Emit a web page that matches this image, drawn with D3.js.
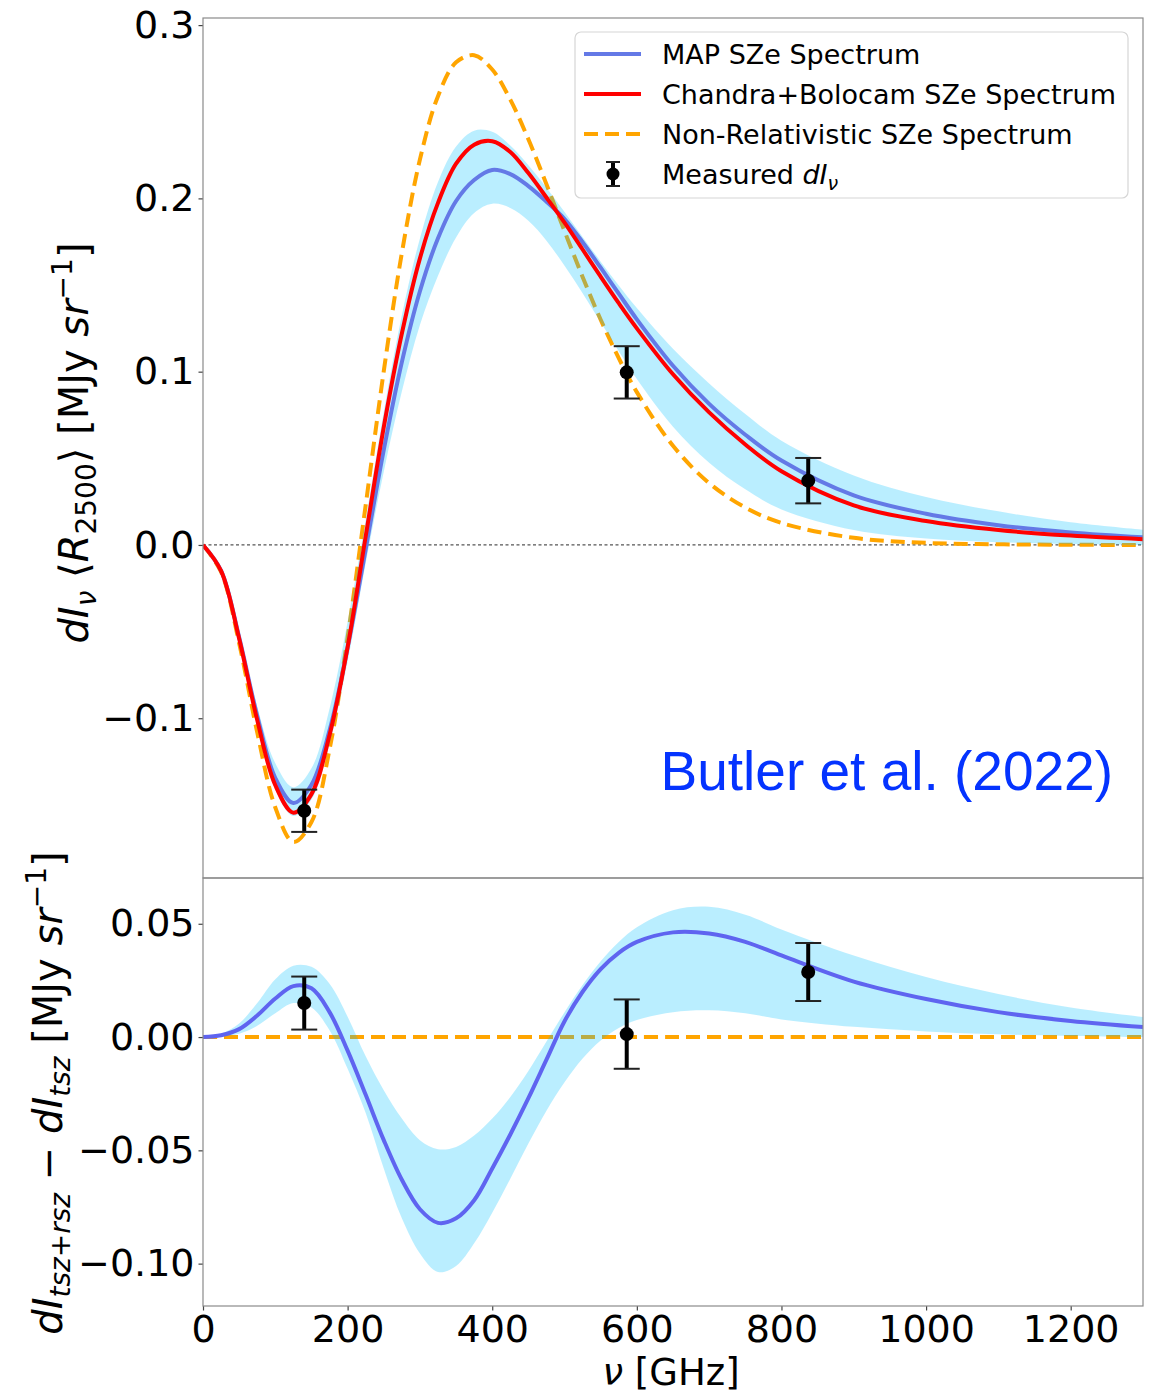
<!DOCTYPE html>
<html>
<head>
<meta charset="utf-8">
<script src="https://cdn.jsdelivr.net/npm/d3@7"></script>
<style>
  body { margin: 0; background: #fff; }
  svg { font-family: "DejaVu Sans", sans-serif; }
</style>
</head>
<body>
<div id="chart"></div>
<script>
// frequency grid [GHz]
const freq = [0, 25, 50, 75, 100, 125, 150, 175, 200, 225, 250, 275, 300, 325, 350, 375, 400, 425,
    450, 475, 500, 525, 550, 575, 600, 650, 700, 750, 800, 900, 1000, 1100, 1200, 1300];

// upper panel spectra [MJy/sr]
const mapSpec = [0, -0.0148, -0.0532, -0.0987, -0.1345, -0.1489, -0.1384, -0.1070, -0.0593, -0.0025,
    0.0548, 0.1055, 0.1464, 0.1770, 0.1985, 0.2106, 0.2164, 0.2140, 0.2071, 0.1981, 0.1881, 0.1747,
    0.1600, 0.1450, 0.1302, 0.1034, 0.0814, 0.0636, 0.0487, 0.0286, 0.0180, 0.0114, 0.0072, 0.0044];
const mapLo = [0, -0.0153, -0.0552, -0.1032, -0.1410, -0.1564, -0.1469, -0.1150, -0.0673, -0.0105,
    0.0423, 0.0885, 0.1269, 0.1553, 0.1775, 0.1916, 0.1969, 0.1945, 0.1871, 0.1756, 0.1611, 0.1452,
    0.1285, 0.1118, 0.0957, 0.0682, 0.0475, 0.0321, 0.0205, 0.0086, 0.0037, 0.0016, 0.0006, 0.0000];
const mapHi = [0, -0.0141, -0.0507, -0.0932, -0.1260, -0.1399, -0.1289, -0.0945, -0.0443, 0.0145,
    0.0768, 0.1325, 0.1769, 0.2095, 0.2300, 0.2391, 0.2384, 0.2305, 0.2191, 0.2061, 0.1921, 0.1777,
    0.1635, 0.1498, 0.1367, 0.1132, 0.0932, 0.0756, 0.0602, 0.0401, 0.0277, 0.0194, 0.0131, 0.0088];
const chandraSpec = [0, -0.0150, -0.0541, -0.1011, -0.1387, -0.1545, -0.1438, -0.1097, -0.0589, 0.0050,
    0.0680, 0.1220, 0.1654, 0.1974, 0.2200, 0.2310, 0.2330, 0.2268, 0.2146, 0.2005, 0.1860, 0.1705,
    0.1548, 0.1395, 0.1250, 0.0985, 0.0765, 0.0580, 0.0425, 0.0228, 0.0138, 0.0086, 0.0054, 0.0033];
const nonRelSpec = [0, -0.0156, -0.0567, -0.1082, -0.1515, -0.1714, -0.1599, -0.1180, -0.0533, 0.0230,
    0.1003, 0.1685, 0.2224, 0.2590, 0.2785, 0.2826, 0.2744, 0.2570, 0.2341, 0.2081, 0.1811, 0.1547,
    0.1300, 0.1078, 0.0882, 0.0572, 0.0357, 0.0216, 0.0127, 0.0041, 0.0012, 0.0004, 0.0001, 0.0000];

// lower panel: relativistic minus non-relativistic
const diffSpec = [0, 0.0008, 0.0035, 0.0095, 0.0170, 0.0225, 0.0215, 0.0110, -0.0060, -0.0255,
    -0.0455, -0.0630, -0.0760, -0.0820, -0.0800, -0.0720, -0.0580, -0.0430, -0.0270, -0.0100, 0.0070,
    0.0200, 0.0300, 0.0372, 0.0420, 0.0462, 0.0457, 0.0420, 0.0360, 0.0245, 0.0168, 0.0110, 0.0071, 0.0044];
const diffLo = [0, 0.0003, 0.0015, 0.0050, 0.0105, 0.0150, 0.0130, 0.0030, -0.0140, -0.0335,
    -0.0580, -0.0800, -0.0955, -0.1037, -0.1010, -0.0910, -0.0775, -0.0625, -0.0470, -0.0325, -0.0200,
    -0.0095, -0.0015, 0.0040, 0.0075, 0.0110, 0.0118, 0.0105, 0.0078, 0.0045, 0.0025, 0.0012, 0.0005, 0.0000];
const diffHi = [0, 0.0015, 0.0060, 0.0150, 0.0255, 0.0315, 0.0310, 0.0235, 0.0090, -0.0085,
    -0.0235, -0.0360, -0.0455, -0.0495, -0.0485, -0.0435, -0.0360, -0.0265, -0.0150, -0.0020, 0.0110,
    0.0230, 0.0335, 0.0420, 0.0485, 0.0560, 0.0575, 0.0540, 0.0475, 0.0360, 0.0265, 0.0190, 0.0130, 0.0088];

// measurements
const measFreq = [140, 586, 837];
const measTop = [-0.1534, 0.0996, 0.0371];
const errTop = [0.0122, 0.0151, 0.0131];
const measDiff = [0.0150, 0.0013, 0.0287];
const errDiff = [0.0117, 0.0153, 0.0128];

const xTicks = [0, 200, 400, 600, 800, 1000, 1200];
const yTicksTop = [-0.1, 0.0, 0.1, 0.2, 0.3];
const yTicksBot = [-0.10, -0.05, 0.00, 0.05];

const W = 1157, H = 1394;
const left = 203, right = 1143;
const topPanel = { y0: 18, y1: 878 };
const botPanel = { y0: 878, y1: 1306 };

const C_MAP = '#6479e6', C_MAP2 = '#5f64f0', C_RED = '#ff0000', C_ORANGE = '#ffa500';
const C_BAND = '#00bfff', BAND_OP = 0.27;

const svg = d3.select('#chart').append('svg')
    .attr('width', W).attr('height', H);

const x = d3.scaleLinear().domain([0, 1300]).range([left, right]);
const yT = d3.scaleLinear().domain([-0.1922, 0.3041]).range([topPanel.y1, topPanel.y0]);
const yB = d3.scaleLinear().domain([-0.1187, 0.0702]).range([botPanel.y1, botPanel.y0]);

const rows = (ys) => freq.map((f, i) => [f, ys[i]]);
const bandRows = (lo, hi) => freq.map((f, i) => [f, lo[i], hi[i]]);

function clip (id, p) {
    svg.append('clipPath').attr('id', id).append('rect')
        .attr('x', left).attr('y', p.y0).attr('width', right - left).attr('height', p.y1 - p.y0);
}
clip('clipTop', topPanel);
clip('clipBot', botPanel);

function drawPanel (y, clipId, cfg) {
    const g = svg.append('g').attr('clip-path', `url(#${clipId})`);
    const curve = d3.curveCatmullRom.alpha(0.5);
    const line = d3.line().x(d => x(d[0])).y(d => y(d[1])).curve(curve);
    const area = d3.area().x(d => x(d[0])).y0(d => y(d[1])).y1(d => y(d[2])).curve(curve);

    if (cfg.zeroLine) {
        g.append('line')
            .attr('x1', left).attr('x2', right).attr('y1', y(0)).attr('y2', y(0))
            .attr('stroke', '#555').attr('stroke-width', 1.3).attr('stroke-dasharray', '3,2.5');
    }
    cfg.dashed.forEach(s => {
        g.append('path').datum(rows(s)).attr('d', line)
            .attr('fill', 'none').attr('stroke', C_ORANGE).attr('stroke-width', 4)
            .attr('stroke-dasharray', '14,7');
    });
    g.append('path').datum(bandRows(cfg.lo, cfg.hi)).attr('d', area)
        .attr('fill', C_BAND).attr('fill-opacity', BAND_OP);
    cfg.solid.forEach(s => {
        g.append('path').datum(rows(s.v)).attr('d', line)
            .attr('fill', 'none').attr('stroke', s.c).attr('stroke-width', 4);
    });

    // error bars
    const eb = g.append('g').selectAll('g').data(measFreq.map((f, i) => [f, cfg.meas[i], cfg.err[i]]))
        .enter().append('g');
    eb.append('line')
        .attr('x1', d => x(d[0])).attr('x2', d => x(d[0]))
        .attr('y1', d => y(d[1] - d[2])).attr('y2', d => y(d[1] + d[2]))
        .attr('stroke', '#000').attr('stroke-width', 4);
    [-1, 1].forEach(sgn => {
        eb.append('line')
            .attr('x1', d => x(d[0]) - 13).attr('x2', d => x(d[0]) + 13)
            .attr('y1', d => y(d[1] + sgn * d[2])).attr('y2', d => y(d[1] + sgn * d[2]))
            .attr('stroke', '#222').attr('stroke-width', 2);
    });
    eb.append('circle')
        .attr('cx', d => x(d[0])).attr('cy', d => y(d[1])).attr('r', 7).attr('fill', '#000');
}

drawPanel(yT, 'clipTop', {
    zeroLine: true,
    dashed: [nonRelSpec],
    lo: mapLo, hi: mapHi,
    solid: [{ v: mapSpec, c: C_MAP }, { v: chandraSpec, c: C_RED }],
    meas: measTop, err: errTop
});
drawPanel(yB, 'clipBot', {
    zeroLine: false,
    dashed: [freq.map(() => 0)],
    lo: diffLo, hi: diffHi,
    solid: [{ v: diffSpec, c: C_MAP2 }],
    meas: measDiff, err: errDiff
});

// axes
function styleAxis (g) {
    g.select('.domain').remove();
    g.selectAll('.tick line').attr('stroke', '#444').attr('stroke-width', 1.2);
    g.selectAll('.tick text').attr('fill', '#000').style('font-size', '38px')
        .style('font-family', '"DejaVu Sans", sans-serif');
}
svg.append('g').attr('transform', `translate(${left},0)`)
    .call(d3.axisLeft(yT).tickValues(yTicksTop).tickFormat(d3.format('.1f')).tickSize(4.5).tickPadding(4))
    .call(styleAxis);
svg.append('g').attr('transform', `translate(${left},0)`)
    .call(d3.axisLeft(yB).tickValues(yTicksBot).tickFormat(d3.format('.2f')).tickSize(4.5).tickPadding(4))
    .call(styleAxis);
svg.append('g').attr('transform', `translate(0,${botPanel.y1})`)
    .call(d3.axisBottom(x).tickValues(xTicks).tickFormat(d3.format('d')).tickSize(4.5).tickPadding(3))
    .call(styleAxis)
    .selectAll('.tick text').attr('dy', '0.76em');

// panel frames
[topPanel, botPanel].forEach(p => {
    svg.append('rect')
        .attr('x', left).attr('y', p.y0).attr('width', right - left).attr('height', p.y1 - p.y0)
        .attr('fill', 'none').attr('stroke', '#8a8a8a').attr('stroke-width', 1.2);
});

// legend
const lg = svg.append('g');
lg.append('rect').attr('x', 575).attr('y', 32).attr('width', 553).attr('height', 166).attr('rx', 6)
    .attr('fill', '#fff').attr('fill-opacity', 0.8).attr('stroke', '#d6d6d6').attr('stroke-width', 1.2);
const legendItems = [
    { label: 'MAP SZe Spectrum', c: C_MAP },
    { label: 'Chandra+Bolocam SZe Spectrum', c: C_RED },
    { label: 'Non-Relativistic SZe Spectrum', c: C_ORANGE, dash: '14,7' },
    { label: 'Measured ', err: true }
];
legendItems.forEach((it, i) => {
    const cy = 54 + i * 40;
    if (it.err) {
        lg.append('line').attr('x1', 613).attr('x2', 613).attr('y1', cy - 12).attr('y2', cy + 12)
            .attr('stroke', '#000').attr('stroke-width', 4);
        [-12, 12].forEach(o => lg.append('line').attr('x1', 606).attr('x2', 620)
            .attr('y1', cy + o).attr('y2', cy + o).attr('stroke', '#222').attr('stroke-width', 2));
        lg.append('circle').attr('cx', 613).attr('cy', cy).attr('r', 6.5).attr('fill', '#000');
    } else {
        lg.append('line').attr('x1', 584).attr('x2', 641).attr('y1', cy).attr('y2', cy)
            .attr('stroke', it.c).attr('stroke-width', 4).attr('stroke-dasharray', it.dash || null);
    }
    const t = lg.append('text').attr('x', 662).attr('y', cy + 10).style('font-size', '27px').text(it.label);
    if (it.err) {
        t.append('tspan').style('font-style', 'italic').text('dI');
        t.append('tspan').style('font-style', 'italic').style('font-size', '19px').attr('dy', 6).text('ν');
    }
});

// annotation
svg.append('text').attr('x', 1113).attr('y', 790).attr('text-anchor', 'end')
    .style('font-family', '"Liberation Sans", Arial, sans-serif').style('font-size', '55px')
    .attr('fill', '#0433ff').text('Butler et al. (2022)');

// axis labels
const xl = svg.append('text').attr('x', (left + right) / 2 - 2).attr('y', 1385).attr('text-anchor', 'middle')
    .style('font-size', '37px');
xl.append('tspan').style('font-style', 'italic').text('ν');
xl.append('tspan').text(' [GHz]');

function mathLabel (cx, cy, parts) {
    const t = svg.append('text').attr('text-anchor', 'middle')
        .attr('transform', `translate(${cx},${cy}) rotate(-90)`).style('font-size', '40px');
    parts.forEach(p => {
        const s = t.append('tspan').text(p.t);
        if (p.i) s.style('font-style', 'italic');
        if (p.sub) s.style('font-size', '28px').attr('dy', 8);
        if (p.sup) s.style('font-size', '28px').attr('dy', -16);
        if (p.back) s.attr('dy', p.back);
    });
}
mathLabel(88, 443, [
    { t: 'dI', i: true }, { t: 'ν', i: true, sub: true },
    { t: ' ⟨', back: -8 }, { t: 'R', i: true }, { t: '2500', sub: true },
    { t: '⟩ [MJy ', back: -8 }, { t: 'sr', i: true }, { t: '−1', sup: true }, { t: ']', back: 16 }
]);
mathLabel(62, 1093, [
    { t: 'dI', i: true }, { t: 'tsz+rsz', i: true, sub: true },
    { t: ' − ', back: -8 }, { t: 'dI', i: true }, { t: 'tsz', i: true, sub: true },
    { t: ' [MJy ', back: -8 }, { t: 'sr', i: true }, { t: '−1', sup: true }, { t: ']', back: 16 }
]);
</script>
</body>
</html>
